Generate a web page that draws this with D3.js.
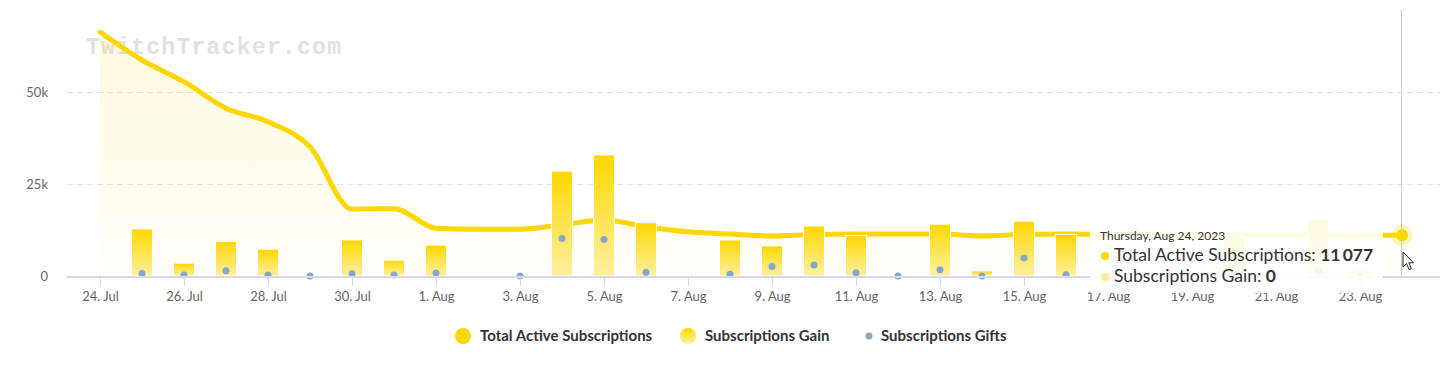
<!DOCTYPE html>
<html>
<head>
<meta charset="utf-8">
<script src="https://cdn.jsdelivr.net/npm/d3@7"></script>
<style>
  body { margin: 0; background: #fff; font-family: Lato, sans-serif; }
  svg text { font-family: Lato, sans-serif; }
</style>
</head>
<body>
<svg id="chart" width="1446" height="370"></svg>
<script>
const days = [
  "2023-07-24","2023-07-25","2023-07-26","2023-07-27","2023-07-28","2023-07-29","2023-07-30","2023-07-31",
  "2023-08-01","2023-08-02","2023-08-03","2023-08-04","2023-08-05","2023-08-06","2023-08-07","2023-08-08",
  "2023-08-09","2023-08-10","2023-08-11","2023-08-12","2023-08-13","2023-08-14","2023-08-15","2023-08-16",
  "2023-08-17","2023-08-18","2023-08-19","2023-08-20","2023-08-21","2023-08-22","2023-08-23","2023-08-24"
]
const totalActive = [
  66300, 58700, 52800, 45600, 41900, 35100, 18200, 18300,
  13000, 12700, 12700, 13900, 15200, 13400, 12000, 11400,
  10900, 11300, 11400, 11400, 11400, 10900, 11300, 11400,
  11300, 11200, 11200, 11200, 11200, 11200, 11100, 11077
]
const subsGain = [
  0, 12800, 3500, 9400, 7300, 250, 9800, 4300,
  8400, 250, 250, 28500, 32900, 14500, 250, 9800,
  8200, 13600, 11000, 250, 14100, 1400, 14900, 11300,
  250, 250, 250, 10600, 250, 15400, 1400, 0
]
const subsGifts = [
  null, 700, 300, 1400, 300, 0, 600, 300,
  800, null, 0, 10200, 9900, 1000, null, 500,
  2600, 3000, 900, 0, 1700, 0, 4900, 350,
  0, 0, 0, 600, 0, 1200, 0, null
]
const yTicks = [0, 25000, 50000]
const seriesNames = ["Total Active Subscriptions", "Subscriptions Gain", "Subscriptions Gifts"]
const hoverIndex = 31
const tooltipTitle = "Thursday, Aug 24, 2023"

const gold = "#FFD700", goldLight = "#FFF0A0", giftBlue = "#86a8c6"
const plot = { left: 67, right: 1440, top: 10, bottom: 276 }

const parse = d3.timeParse("%Y-%m-%d")
const dates = days.map(parse)
const rows = dates.map((d, i) => ({ date: d, total: totalActive[i], gain: subsGain[i], gift: subsGifts[i] }))

const x = d3.scaleTime().domain([dates[0], dates[dates.length - 1]]).range([100, 1402])
const y = d3.scaleLinear().domain([0, 50000]).range([plot.bottom, 92])

const svg = d3.select("#chart")
const defs = svg.append("defs")

const areaGrad = defs.append("linearGradient").attr("id", "areaGrad")
  .attr("gradientUnits", "userSpaceOnUse").attr("x1", 0).attr("x2", 0).attr("y1", plot.top).attr("y2", plot.bottom)
areaGrad.append("stop").attr("offset", 0).attr("stop-color", gold).attr("stop-opacity", 0.14)
areaGrad.append("stop").attr("offset", 1).attr("stop-color", gold).attr("stop-opacity", 0.02)

const barGrad = defs.append("linearGradient").attr("id", "barGrad")
  .attr("x1", 0).attr("x2", 0).attr("y1", 0).attr("y2", 1)
barGrad.append("stop").attr("offset", 0).attr("stop-color", gold)
barGrad.append("stop").attr("offset", 1).attr("stop-color", goldLight)

// watermark
svg.append("text")
  .attr("x", 86).attr("y", 54)
  .attr("textLength", 255).attr("lengthAdjust", "spacing")
  .style("font-family", "'Liberation Mono', 'Courier New', monospace")
  .style("font-size", "23px").style("font-weight", "bold")
  .style("fill", "#e1e1e1")
  .text("TwitchTracker.com")

// grid
svg.append("g").selectAll("line")
  .data(yTicks.filter(d => d > 0))
  .join("line")
  .attr("x1", plot.left).attr("x2", plot.right)
  .attr("y1", d => Math.round(y(d)) + 0.5).attr("y2", d => Math.round(y(d)) + 0.5)
  .attr("stroke", "#e2e2e2").attr("stroke-dasharray", "6,4")

// y axis labels
const yAxis = svg.append("g").attr("transform", "translate(51,0)")
  .call(d3.axisLeft(y).tickValues(yTicks).tickSize(0).tickPadding(3)
    .tickFormat(d => d ? d / 1000 + "k" : "0"))
yAxis.select(".domain").remove()
yAxis.selectAll("text").style("font-size", "13px").style("fill", "#666")

// crosshair
svg.append("line")
  .attr("x1", Math.round(x(dates[hoverIndex])) - 0.5).attr("x2", Math.round(x(dates[hoverIndex])) - 0.5)
  .attr("y1", plot.top).attr("y2", plot.bottom)
  .attr("stroke", "#cccccc")

// area + line
const area = d3.area().x(d => x(d.date)).y0(plot.bottom).y1(d => y(d.total)).curve(d3.curveMonotoneX)
const line = d3.line().x(d => x(d.date)).y(d => y(d.total)).curve(d3.curveMonotoneX)
svg.append("path").datum(rows).attr("d", area).attr("fill", "url(#areaGrad)")
svg.append("path").datum(rows).attr("d", line)
  .attr("fill", "none").attr("stroke", gold).attr("stroke-width", 5).attr("stroke-linecap", "round")

// bars
svg.append("g").selectAll("rect")
  .data(rows.filter(d => d.gain > 0))
  .join("rect")
  .attr("x", d => x(d.date) - 10.5)
  .attr("width", 21)
  .attr("y", d => y(d.gain))
  .attr("height", d => plot.bottom - y(d.gain))
  .attr("fill", "url(#barGrad)")
  .attr("stroke", "#fff").attr("stroke-width", 1)

// gifts
svg.append("g").selectAll("circle")
  .data(rows.filter(d => d.gift !== null))
  .join("circle")
  .attr("cx", d => x(d.date)).attr("cy", d => y(d.gift))
  .attr("r", 3.5).attr("fill", giftBlue)

// x axis
const xAxis = svg.append("g").attr("transform", `translate(0,${plot.bottom})`)
  .call(d3.axisBottom(x).tickValues(dates.filter((d, i) => i % 2 === 0 && i < dates.length - 1))
    .tickFormat(d3.timeFormat("%-d. %b")).tickSize(10).tickPadding(6))
xAxis.select(".domain").remove()
xAxis.selectAll(".tick line").attr("stroke", "#ccd6eb")
xAxis.selectAll("text").style("font-size", "13px").style("fill", "#666")
svg.append("line")
  .attr("x1", plot.left).attr("x2", plot.right)
  .attr("y1", plot.bottom + 1).attr("y2", plot.bottom + 1)
  .attr("stroke", "#d5dbec").attr("stroke-width", 2)

// hover marker
const hp = rows[hoverIndex]
svg.append("circle").attr("cx", x(hp.date)).attr("cy", y(hp.total)).attr("r", 10.5)
  .attr("fill", gold).attr("fill-opacity", 0.25)
svg.append("circle").attr("cx", x(hp.date)).attr("cy", y(hp.total)).attr("r", 6)
  .attr("fill", gold)

// tooltip
const tip = svg.append("g")
tip.append("rect").attr("x", 1090).attr("y", 213).attr("width", 293).attr("height", 80)
  .attr("fill", "#fff").attr("fill-opacity", 0.88)
tip.append("text").attr("x", 1100).attr("y", 240)
  .style("font-size", "12px").style("fill", "#333").text(tooltipTitle)
const tipRows = [
  { color: gold, name: seriesNames[0], value: d3.format(",")(hp.total).replace(/,/g, "\u2009"), y: 261 },
  { color: "#FFEB8C", name: seriesNames[1], value: String(hp.gain), y: 282 }
]
tipRows.forEach(r => {
  tip.append("circle").attr("cx", 1105).attr("cy", r.y - 5).attr("r", 4).attr("fill", r.color)
  const t = tip.append("text").attr("x", 1114).attr("y", r.y).style("font-size", "17.5px").style("fill", "#333")
  t.append("tspan").text(r.name + ": ")
  t.append("tspan").style("font-weight", "bold").text(r.value)
})

// mouse cursor
svg.append("path")
  .attr("transform", `translate(${x(hp.date) + 1},252)`)
  .attr("d", "M0,0 L0,15 L3.5,11.5 L6,17.5 L8.3,16.6 L5.8,10.8 L10.5,10.8 Z")
  .attr("fill", "#fff").attr("stroke", "#222").attr("stroke-width", 1)

// legend
const legend = svg.append("g").attr("transform", "translate(0,336)")
const legendLayout = [
  { cx: 463, r: 8, fill: gold, tx: 480 },
  { cx: 688, r: 8, fill: "url(#barGrad)", tx: 705 },
  { cx: 869, r: 3.5, fill: giftBlue, tx: 881 }
]
seriesNames.forEach((name, i) => {
  const l = legendLayout[i]
  legend.append("circle").attr("cx", l.cx).attr("cy", 0).attr("r", l.r).attr("fill", l.fill)
  legend.append("text").attr("x", l.tx).attr("y", 5)
    .style("font-size", "15px").style("font-weight", "bold").style("fill", "#333").text(name)
})
</script>
</body>
</html>
